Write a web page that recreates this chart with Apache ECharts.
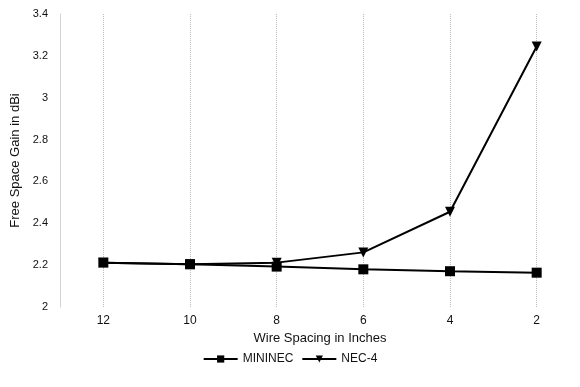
<!DOCTYPE html>
<html>
<head>
<meta charset="utf-8">
<script src="https://cdn.jsdelivr.net/npm/echarts@6/dist/echarts.min.js"></script>
<style>
  html, body { margin: 0; padding: 0; background: #fff; }
  #chart { width: 580px; height: 387px; }
</style>
</head>
<body>
<div id="chart"></div>
<script>
// wire spacing (inches), plotted right to left as in the original
var spacing = ['12', '10', '8', '6', '4', '2'];
var mininec = [2.212, 2.204, 2.193, 2.180, 2.171, 2.164];
var nec4 = [2.212, 2.204, 2.212, 2.261, 2.455, 3.245];

var font = 'Liberation Sans, Arial, sans-serif';

// faint dotted guide through each category
var guides = spacing.map(function (s) { return { xAxis: s }; });

echarts.init(document.getElementById('chart')).setOption({
  backgroundColor: '#fff',
  animation: false,
  textStyle: { fontFamily: font, color: '#111' },
  grid: { left: 60, right: 0, top: 14, bottom: 80 },
  legend: {
    bottom: 17,
    left: 'center',
    itemWidth: 34,
    itemHeight: 9,
    itemGap: 8,
    textStyle: { fontFamily: font, fontSize: 12, color: '#111' },
    data: ['MININEC', 'NEC-4']
  },
  xAxis: {
    type: 'category',
    data: spacing,
    name: 'Wire Spacing in Inches',
    nameLocation: 'middle',
    nameGap: 19,
    nameTextStyle: { fontSize: 13, color: '#111' },
    axisLine: { show: false },
    axisTick: { show: false },
    axisLabel: { fontSize: 12, color: '#111', margin: 8 },
    splitLine: { show: false }
  },
  yAxis: {
    type: 'value',
    min: 2,
    max: 3.4,
    interval: 0.2,
    name: 'Free Space Gain in dBi',
    nameLocation: 'middle',
    nameGap: 38,
    nameTextStyle: { fontSize: 13, color: '#111' },
    axisLine: { show: true, lineStyle: { color: '#ccc', type: 'dotted' } },
    axisTick: { show: false },
    axisLabel: { fontSize: 11, color: '#111', margin: 12 },
    splitLine: { show: false }
  },
  series: [
    {
      name: 'MININEC',
      type: 'line',
      data: mininec,
      symbol: 'rect',
      symbolSize: 10,
      lineStyle: { color: '#000', width: 2 },
      itemStyle: { color: '#000' },
      z: 3,
      markLine: {
        silent: true,
        symbol: 'none',
        label: { show: false },
        lineStyle: { color: '#bbb', type: 'dotted', width: 1 },
        data: guides,
        z: 1
      }
    },
    {
      name: 'NEC-4',
      type: 'line',
      data: nec4,
      symbol: 'triangle',
      symbolRotate: 180,
      symbolSize: 10,
      lineStyle: { color: '#000', width: 2 },
      itemStyle: { color: '#000' },
      z: 3
    }
  ]
});
</script>
</body>
</html>
